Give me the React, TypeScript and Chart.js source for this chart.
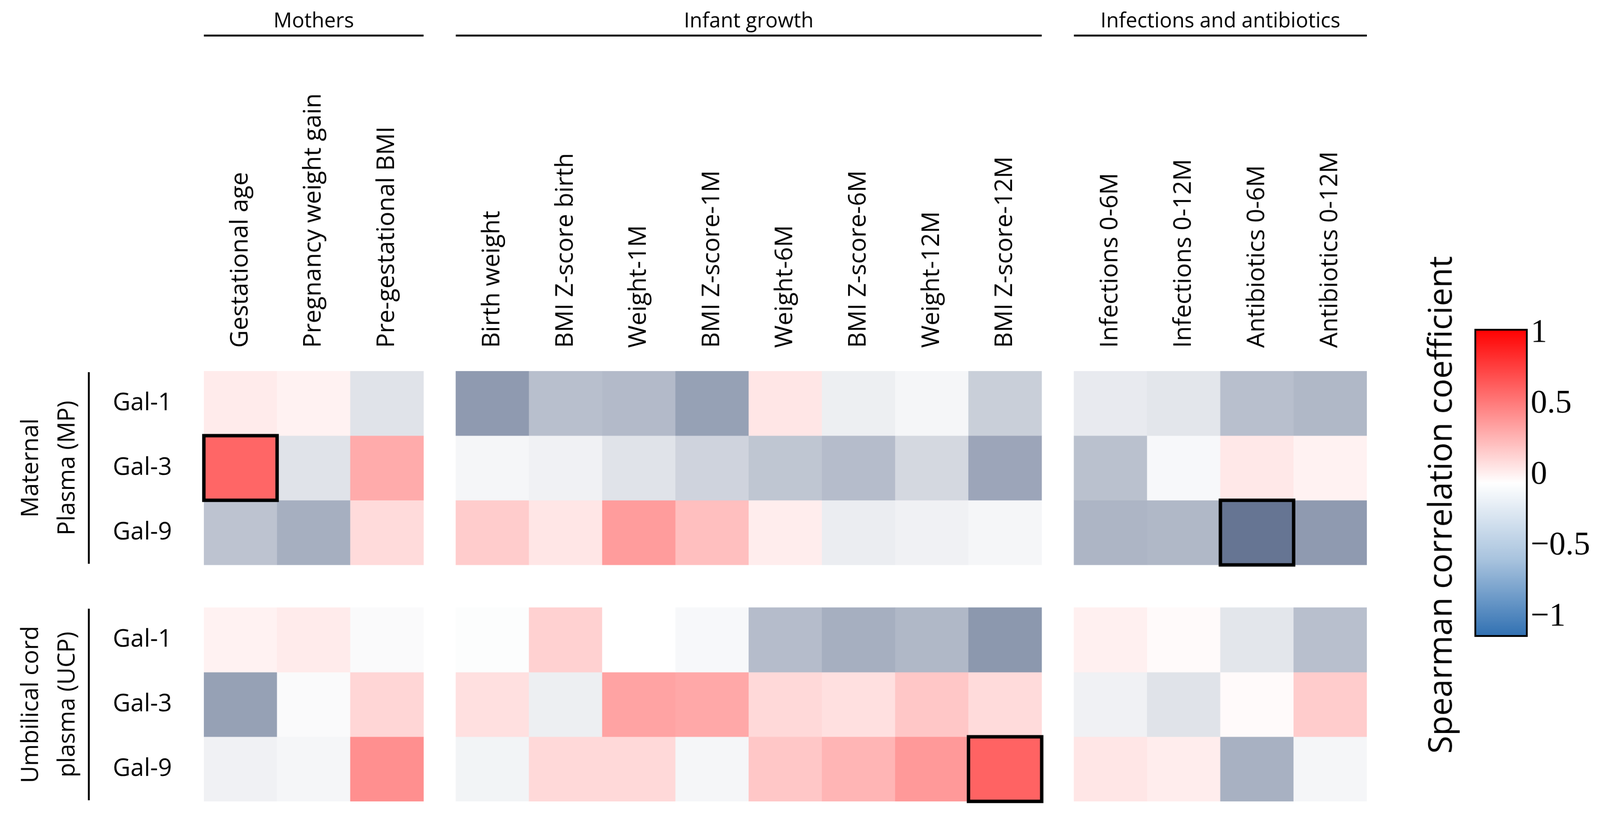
import React, { useEffect, useRef } from 'react';
import { Chart, registerables } from 'chart.js';

Chart.register(...registerables);

// ---------- data ----------
const columnLabels = [
  'Gestational age', 'Pregnancy weight gain', 'Pre-gestational BMI',
  'Birth weight', 'BMI Z-score birth', 'Weight-1M', 'BMI Z-score-1M',
  'Weight-6M', 'BMI Z-score-6M', 'Weight-12M', 'BMI Z-score-12M',
  'Infections 0-6M', 'Infections 0-12M', 'Antibiotics 0-6M', 'Antibiotics 0-12M',
];
const columnGroupOf = [0, 0, 0, 1, 1, 1, 1, 1, 1, 1, 1, 2, 2, 2, 2];
const columnGroupLabels = ['Mothers', 'Infant growth', 'Infections and antibiotics'];

const rowLabels = ['Gal-1', 'Gal-3', 'Gal-9', 'Gal-1', 'Gal-3', 'Gal-9'];
const rowGroupOf = [0, 0, 0, 1, 1, 1];
const rowGroupLabels = [
  ['Maternal', 'Plasma (MP)'],
  ['Umbilical cord', 'plasma (UCP)'],
];

// Spearman correlation coefficients
const mpGal1 = [0.08, 0.05, -0.12, -0.44, -0.28, -0.30, -0.41, 0.10, -0.07, -0.04, -0.21, -0.09, -0.11, -0.28, -0.31];
const mpGal3 = [0.60, -0.12, 0.33, -0.04, -0.06, -0.12, -0.19, -0.25, -0.29, -0.17, -0.39, -0.27, -0.03, 0.09, 0.05];
const mpGal9 = [-0.26, -0.35, 0.14, 0.20, 0.10, 0.39, 0.25, 0.07, -0.08, -0.06, -0.04, -0.32, -0.31, -0.60, -0.44];
const ucpGal1 = [0.05, 0.08, -0.02, -0.01, 0.18, 0.0, -0.03, -0.29, -0.35, -0.31, -0.45, 0.06, 0.02, -0.11, -0.28];
const ucpGal3 = [-0.41, -0.02, 0.16, 0.12, -0.07, 0.36, 0.34, 0.15, 0.12, 0.22, 0.14, -0.06, -0.12, 0.02, 0.20];
const ucpGal9 = [-0.06, -0.04, 0.44, -0.05, 0.15, 0.15, -0.04, 0.22, 0.29, 0.40, 0.61, 0.10, 0.07, -0.34, -0.04];
const correlations = [mpGal1, mpGal3, mpGal9, ucpGal1, ucpGal3, ucpGal9];

// significant cells: [row, column]
const significantCells = [[1, 0], [2, 13], [5, 10]];

const colorbarTicks = [1, 0.5, 0, -0.5, -1];
const colorbarTitle = 'Spearman correlation coefficient';

// ---------- layout / style ----------
const W = 4207;
const H = 2151;
const COL_GAP = 0.44;
const ROW_GAP = 0.66;
const SANS = "'Open Sans', 'Noto Sans', sans-serif";
const SERIF = "'Liberation Serif', 'DejaVu Serif', serif";
const CB_MIN = -1.142;
const CB_MAX = 1.03;
const CB_BOX = { left: 3700, top: 600, width: 507, height: 1300 };

const xPos = columnLabels.map((_, j) => j + columnGroupOf[j] * COL_GAP);
const yPos = rowLabels.map((_, i) => i + rowGroupOf[i] * ROW_GAP);

function cellColor(v: number): string {
  if (v >= 0) {
    const t = Math.min(v, 1);
    const c = Math.round(255 * (1 - t));
    return `rgb(255,${c},${c})`;
  }
  const t = Math.min(-v, 1);
  const r = Math.round(255 - 255 * t);
  const g = Math.round(255 - 230 * t);
  const b = Math.round(255 - 180 * t);
  return `rgb(${r},${g},${b})`;
}

const decorPlugin = {
  id: 'decor',
  afterDatasetsDraw(chart: any) {
    const { ctx } = chart;
    ctx.save();
    ctx.strokeStyle = '#000';
    ctx.lineWidth = 9;
    significantCells.forEach(([r, c]) => {
      const el = chart.getDatasetMeta(r).data[c];
      const p = el.getProps(['x', 'y', 'base', 'width'], true);
      const top = Math.min(p.y, p.base);
      ctx.strokeRect(p.x - p.width / 2, top, p.width, Math.abs(p.base - p.y));
    });
    ctx.restore();
  },
  afterDraw(chart: any) {
    const { ctx } = chart;
    const xs = chart.scales.x;
    const ys = chart.scales.y;
    ctx.save();
    ctx.fillStyle = '#000';
    // column group headers
    ctx.font = `54px ${SANS}`;
    ctx.textAlign = 'center';
    ctx.textBaseline = 'alphabetic';
    columnGroupLabels.forEach((label, g) => {
      const idx = columnGroupOf.map((gg, j) => (gg === g ? j : -1)).filter((j) => j >= 0);
      const left = xs.getPixelForValue(xPos[idx[0]] - 0.5);
      const right = xs.getPixelForValue(xPos[idx[idx.length - 1]] + 0.5);
      ctx.fillText(label, (left + right) / 2, 72);
      ctx.fillRect(left, 91, right - left, 5);
    });
    // row group headers
    ctx.font = `62px ${SANS}`;
    rowGroupLabels.forEach((lines, g) => {
      const idx = rowGroupOf.map((gg, i) => (gg === g ? i : -1)).filter((i) => i >= 0);
      const top = ys.getPixelForValue(yPos[idx[0]] - 0.5);
      const bottom = ys.getPixelForValue(yPos[idx[idx.length - 1]] + 0.5);
      ctx.fillRect(231, top + 3, 5, bottom - top - 6);
      const cy = (top + bottom) / 2;
      lines.forEach((t, k) => {
        ctx.save();
        ctx.translate(100 + k * 96, cy);
        ctx.rotate(-Math.PI / 2);
        ctx.fillText(t, 0, 0);
        ctx.restore();
      });
    });
    // colour bar title
    ctx.font = `86px ${SANS}`;
    ctx.save();
    ctx.translate(3817, 1328);
    ctx.rotate(-Math.PI / 2);
    ctx.fillText(colorbarTitle, 0, 0);
    ctx.restore();
    ctx.restore();
  },
};

export default function App() {
  const mainRef = useRef<HTMLCanvasElement>(null);
  const cbRef = useRef<HTMLCanvasElement>(null);
  // the page is photographed at the viewport's width; draw in reference units and fit them to it
  const k = typeof window !== 'undefined' && window.innerWidth ? window.innerWidth / W : 1;

  useEffect(() => {
    document.body.style.margin = '0';
    document.body.style.overflow = 'hidden';
    document.body.style.background = '#fff';
    Chart.defaults.font.family = SANS;
    Chart.defaults.color = '#000';

    const main = new Chart(mainRef.current as HTMLCanvasElement, {
      type: 'bar',
      data: {
        datasets: correlations.map((vals, r) => ({
          label: rowLabels[r],
          data: vals.map((v, j) => ({ x: xPos[j], y: [yPos[r] - 0.5, yPos[r] + 0.5] })),
          backgroundColor: vals.map(cellColor),
          borderWidth: 0,
          grouped: false,
          categoryPercentage: 1,
          barPercentage: 1,
        })) as any,
      },
      options: {
        animation: false,
        responsive: false,
        maintainAspectRatio: false,
        devicePixelRatio: 1,
        layout: { padding: { left: 0, top: 0, right: 613, bottom: 43 } },
        plugins: { legend: { display: false }, tooltip: { enabled: false } },
        scales: {
          x: {
            type: 'linear',
            position: 'top',
            offset: false,
            min: -0.5,
            max: xPos[xPos.length - 1] + 0.5,
            grid: { display: false, drawTicks: false, offset: false },
            border: { display: false },
            afterBuildTicks: (axis: any) => {
              axis.ticks = xPos.map((v) => ({ value: v }));
            },
            afterFit: (axis: any) => {
              axis.height = 976;
              axis.paddingLeft = 0;
              axis.paddingRight = 0;
            },
            ticks: {
              autoSkip: false,
              minRotation: 90,
              maxRotation: 90,
              padding: 61,
              labelOffset: 77,
              color: '#000',
              font: { size: 64, family: SANS },
              callback: (_v: any, i: number) => columnLabels[i],
            },
          },
          y: {
            type: 'linear',
            reverse: true,
            offset: false,
            min: -0.5,
            max: yPos[yPos.length - 1] + 0.5,
            grid: { display: false, drawTicks: false },
            border: { display: false },
            afterBuildTicks: (axis: any) => {
              axis.ticks = yPos.map((v) => ({ value: v }));
            },
            afterFit: (axis: any) => {
              axis.width = 536;
              axis.paddingTop = 0;
              axis.paddingBottom = 0;
            },
            ticks: {
              autoSkip: false,
              padding: 84,
              color: '#000',
              font: { size: 64, family: SANS },
              callback: (_v: any, i: number) => rowLabels[i],
            },
          },
        },
      } as any,
      plugins: [decorPlugin],
    });

    const cb = new Chart(cbRef.current as HTMLCanvasElement, {
      type: 'bar',
      data: {
        labels: [''],
        datasets: [
          {
            data: [[CB_MIN, CB_MAX]] as any,
            backgroundColor: (c: any) => {
              const area = c.chart.chartArea;
              if (!area) return '#fff';
              const g = c.chart.ctx.createLinearGradient(0, area.top, 0, area.bottom);
              g.addColorStop(0, '#ff0000');
              g.addColorStop(0.25, '#ff8080');
              g.addColorStop(0.5, '#ffffff');
              g.addColorStop(0.75, '#a8c3de');
              g.addColorStop(1, '#3070b2');
              return g;
            },
            borderColor: '#000',
            borderWidth: 5,
            borderSkipped: false,
            categoryPercentage: 1,
            barPercentage: 1,
          },
        ],
      },
      options: {
        animation: false,
        responsive: false,
        maintainAspectRatio: false,
        devicePixelRatio: 1,
        layout: { padding: { left: 177, top: 265, bottom: 225, right: 0 } },
        plugins: { legend: { display: false }, tooltip: { enabled: false } },
        scales: {
          x: { display: false },
          y: {
            position: 'right',
            offset: false,
            min: CB_MIN,
            max: CB_MAX,
            grid: { display: false, drawTicks: false },
            border: { display: false },
            afterBuildTicks: (axis: any) => {
              axis.ticks = colorbarTicks.map((v) => ({ value: v }));
            },
            afterFit: (axis: any) => {
              axis.width = 190;
              axis.paddingTop = 0;
              axis.paddingBottom = 0;
            },
            ticks: {
              autoSkip: false,
              padding: 8,
              color: '#000',
              font: { size: 86, family: SERIF },
              callback: (v: any) => (v < 0 ? '\u2212' + Math.abs(v) : String(v)),
            },
          },
        },
      } as any,
    });

    return () => {
      main.destroy();
      cb.destroy();
    };
  }, []);

  return (
    <div style={{ position: 'relative', width: W * k, height: H * k, overflow: 'hidden', background: '#fff' }}>
      <canvas
        ref={mainRef}
        width={W}
        height={H}
        style={{ position: 'absolute', left: 0, top: 0, width: W * k, height: H * k }}
      />
      <canvas
        ref={cbRef}
        width={CB_BOX.width}
        height={CB_BOX.height}
        style={{
          position: 'absolute',
          left: CB_BOX.left * k,
          top: CB_BOX.top * k,
          width: CB_BOX.width * k,
          height: CB_BOX.height * k,
        }}
      />
    </div>
  );
}
